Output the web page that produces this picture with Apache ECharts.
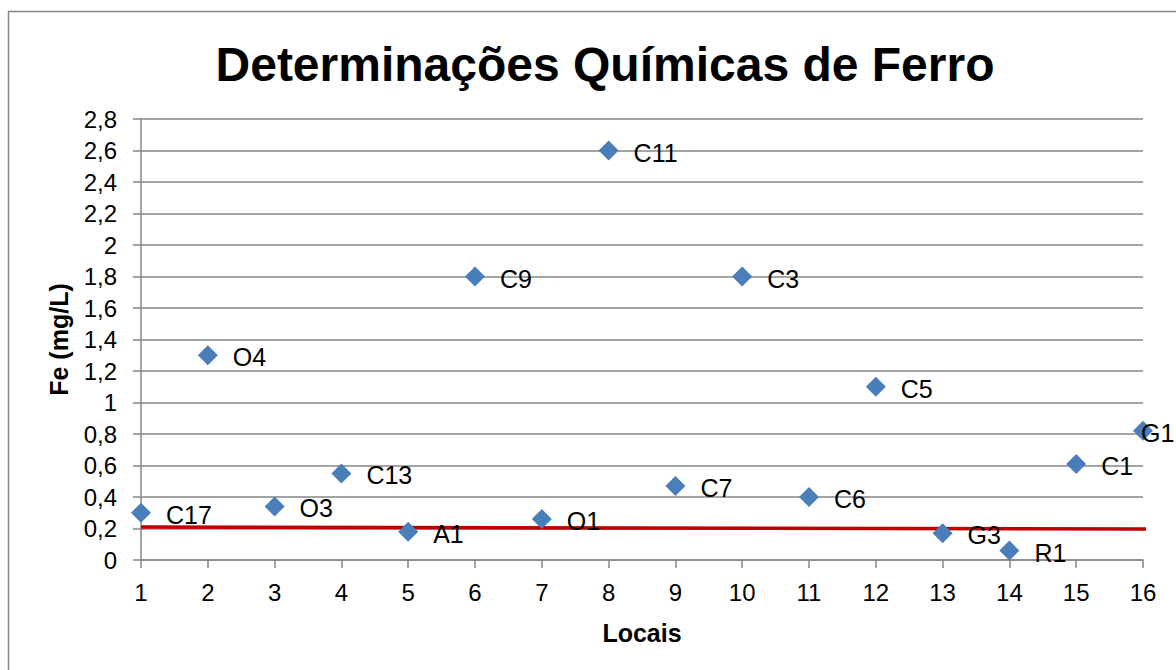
<!DOCTYPE html>
<html>
<head>
<meta charset="utf-8">
<script src="https://cdn.jsdelivr.net/npm/echarts@6/dist/echarts.min.js"></script>
<style>
  html, body { margin: 0; padding: 0; background: #fff; }
  #chart { width: 1176px; height: 670px; }
</style>
</head>
<body>
<div id="chart"></div>
<script>
var locais = [1, 2, 3, 4, 5, 6, 7, 8, 9, 10, 11, 12, 13, 14, 15, 16];
var nomes = ['C17', 'O4', 'O3', 'C13', 'A1', 'C9', 'O1', 'C11', 'C7', 'C3', 'C6', 'C5', 'G3', 'R1', 'C1', 'G1'];
var ferro = [0.30, 1.30, 0.34, 0.55, 0.18, 1.80, 0.26, 2.60, 0.47, 1.80, 0.40, 1.10, 0.17, 0.06, 0.61, 0.82];
var linhaX = [1, 16.12];
var linhaY = [0.21, 0.197];

(function() {
  var grey = '#868686';
  var font = 'Liberation Sans, Arial, sans-serif';
  var chart = echarts.init(document.getElementById('chart'), null, { renderer: 'svg' });

  var pontos = locais.map(function(x, i) {
    var p = { value: [x, ferro[i]], name: nomes[i] };
    // last label is pushed back inside the chart, as in the original
    if (i === locais.length - 1) p.label = { offset: [-27, 2] };
    return p;
  });
  var linha = linhaX.map(function(x, i) { return [x, linhaY[i]]; });

  chart.setOption({
    animation: false,
    title: {
      text: 'Determinações Químicas de Ferro',
      left: 600, top: 35, textAlign: 'center',
      textStyle: { fontFamily: font, fontSize: 48, fontWeight: 'bold', color: '#000' }
    },
    graphic: [{
      type: 'rect', shape: { x: 8.5, y: 11.5, width: 1200, height: 700 },
      style: { fill: 'none', stroke: grey, lineWidth: 1.5 }, silent: true
    }],
    grid: { left: 141, right: 33, top: 119, bottom: 110 },
    xAxis: {
      type: 'value', min: 1, max: 16, interval: 1,
      name: 'Locais', nameLocation: 'middle', nameGap: 60,
      nameTextStyle: { fontFamily: font, fontSize: 25, fontWeight: 'bold', color: '#000' },
      axisLine: { lineStyle: { color: grey, width: 1.5 } },
      axisTick: { show: true, length: 8, lineStyle: { color: grey, width: 1.5 } },
      axisLabel: { fontFamily: font, fontSize: 24, color: '#000', margin: 20 },
      splitLine: { show: false }
    },
    yAxis: {
      type: 'value', min: 0, max: 2.8, interval: 0.2,
      name: 'Fe (mg/L)', nameLocation: 'middle', nameGap: 70, nameRotate: 90,
      nameTextStyle: { fontFamily: font, fontSize: 25, fontWeight: 'bold', color: '#000' },
      axisLine: { show: true, lineStyle: { color: grey, width: 1.5 } },
      axisTick: { show: true, length: 8, lineStyle: { color: grey, width: 1.5 } },
      axisLabel: {
        fontFamily: font, fontSize: 24, color: '#000', margin: 24,
        formatter: function(v) { return String(Number(v.toFixed(1))).replace('.', ','); }
      },
      splitLine: { show: true, lineStyle: { color: grey, width: 1.5 } }
    },
    series: [
      {
        type: 'line',
        data: linha,
        symbol: 'none',
        clip: false,
        lineStyle: { color: '#C00000', width: 3.5 },
        z: 3
      },
      {
        type: 'scatter',
        data: pontos,
        symbol: 'diamond',
        symbolSize: [20, 20],
        itemStyle: { color: '#4A7EBB', opacity: 1 },
        clip: false,
        label: {
          show: true, position: 'right', distance: 15,
          formatter: function(p) { return p.name; },
          fontFamily: font, fontSize: 25, color: '#000',
          offset: [0, 2]
        },
        z: 4
      }
    ]
  });
})();
</script>
</body>
</html>
